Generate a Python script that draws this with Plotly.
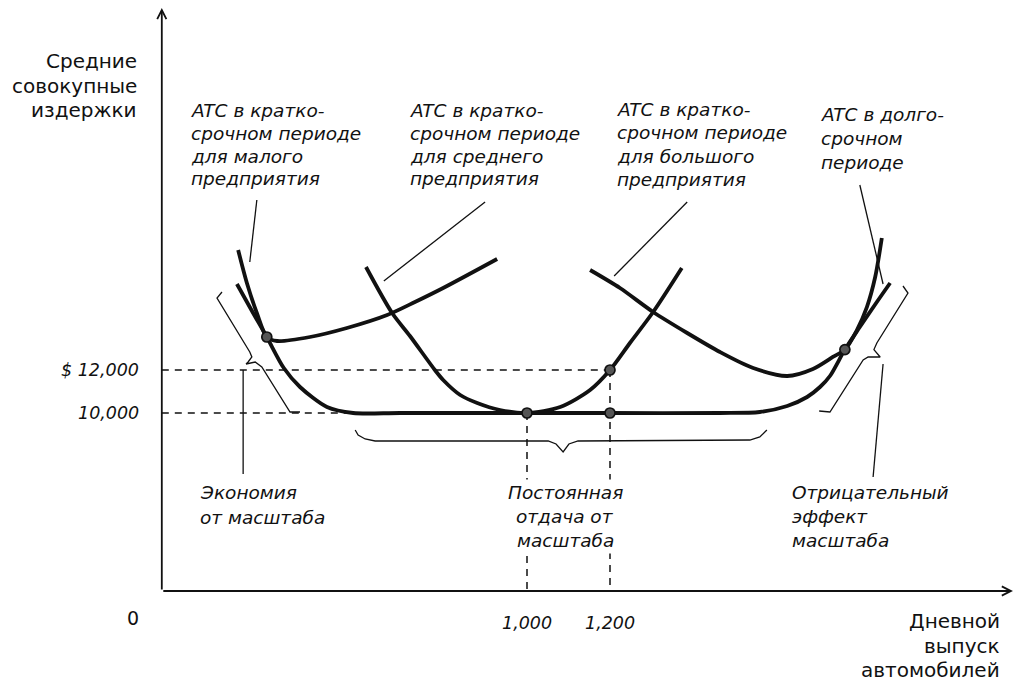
import plotly.graph_objects as go

W, H = 1033, 683

# ---------------- data (output in cars/day, ATC in $) ----------------
small_x = [304, 325, 349, 373, 398, 477, 566, 663, 730, 798, 928]
small_y = [17581, 16047, 14651, 13535, 13349, 13535, 13954, 14558, 15163, 15814, 17163]

medium_x = [612, 675, 718, 778, 798, 839, 880, 935, 1000, 1080, 1152, 1200, 1248, 1304, 1373]
medium_y = [16791, 14651, 13581, 12000, 11535, 10837, 10465, 10140, 10000, 10279, 11070, 12000, 13256, 14698, 16744]

large_x = [1152, 1224, 1304, 1386, 1465, 1545, 1627, 1689, 1737, 1766, 1795, 1819, 1839, 1855]
large_y = [16651, 15814, 14698, 13721, 12837, 12093, 11721, 12047, 12605, 12950, 13860, 14930, 16326, 18140]

long_x = [301, 340, 373, 414, 453, 518, 581, 694, 1000, 1200, 1465, 1561, 1627, 1675, 1706, 1730, 1766, 1802, 1843, 1875]
long_y = [16000, 14651, 13535, 12093, 11209, 10279, 10000, 10000, 10000, 10000, 10000, 10047, 10326, 10744, 11209, 11721, 12950, 14000, 15163, 16047]

dot_x = [373, 1000, 1200, 1200, 1766]
dot_y = [13535, 10000, 10000, 12000, 12950]

x_ticks = [1000, 1200]
x_tick_labels = ["1,000", "1,200"]
y_ticks = [12000, 10000]
y_tick_labels = ["$ 12,000", "10,000"]

brace_left_x = [265, 253, 332, 337, 328, 323, 345, 361, 429, 453]
brace_left_y = [15628, 15349, 12837, 12605, 12372, 12279, 12372, 12140, 10047, 10047]
brace_bottom_x = [586, 593, 610, 634, 1051, 1070, 1087, 1101, 1123, 1537, 1561, 1578]
brace_bottom_y = [9209, 8977, 8791, 8698, 8698, 8558, 8186, 8558, 8698, 8744, 8884, 9209]
brace_right_x = [1906, 1918, 1843, 1836, 1851, 1822, 1810, 1730, 1704]
brace_right_y = [15907, 15581, 13256, 12950, 12605, 12605, 12465, 10047, 10093]

leader_x0 = [349, 899, 1386, 1802, 316, 1858]
leader_y0 = [19907, 19814, 19814, 20605, 12000, 12279]
leader_x1 = [332, 655, 1210, 1858, 316, 1834]
leader_y1 = [17023, 16140, 16372, 16000, 7163, 7023]

label_small = ["ATC в кратко-", "срочном периоде", "для малого", "предприятия"]
label_medium = ["ATC в кратко-", "срочном периоде", "для среднего", "предприятия"]
label_large = ["ATC в кратко-", "срочном периоде", "для большого", "предприятия"]
label_long = ["ATC в долго-", "срочном", "периоде"]
label_econ = ["Экономия", "от масштаба"]
label_const = ["Постоянная", "отдача от", "масштаба"]
label_dis = ["Отрицательный", "эффект", "масштаба"]
y_title = ["Средние", "совокупные", "издержки"]
x_title = ["Дневной", "выпуск", "автомобилей"]

# ---------------- axes frame ----------------
X0_PX, X_PER_PX = 527, 200 / 83      # 1,000 cars at px 527; 200 cars per 83 px
Y0_PX, Y_PER_PX = 413, 2000 / 43     # $10,000 at px 413; $2,000 per 43 px
x_range = [1000 - X0_PX * X_PER_PX, 1000 + (W - X0_PX) * X_PER_PX]
y_range = [10000 - (H - Y0_PX) * Y_PER_PX, 10000 + Y0_PX * Y_PER_PX]
origin_x, origin_y = 120, 1721
x_end, y_end = 2171, 28837

INK = "#111111"
FONT = "DejaVu Sans"

fig = go.Figure()

def curve(xs, ys):
    fig.add_trace(go.Scatter(x=xs, y=ys, mode="lines",
                             line=dict(color=INK, width=3.8, shape="spline", smoothing=0.8),
                             hoverinfo="skip"))

def thin(xs, ys, width=1.3, dash=None):
    fig.add_trace(go.Scatter(x=xs, y=ys, mode="lines",
                             line=dict(color=INK, width=width, dash=dash),
                             hoverinfo="skip"))

# dashed guides
dash = "7px,6px"
thin([origin_x, x_ticks[1]], [y_ticks[0], y_ticks[0]], 1.5, dash)
thin([origin_x, long_x[6]], [y_ticks[1], y_ticks[1]], 1.5, dash)
thin([x_ticks[0], x_ticks[0]], [y_ticks[1], origin_y], 1.5, dash)
thin([x_ticks[1], x_ticks[1]], [y_ticks[0], origin_y], 1.5, dash)

# braces and leaders
thin(brace_left_x, brace_left_y)
thin(brace_bottom_x, brace_bottom_y)
thin(brace_right_x, brace_right_y)
for a, b, c, d in zip(leader_x0, leader_y0, leader_x1, leader_y1):
    thin([a, c], [b, d], 1.3)

# cost curves
curve(small_x, small_y)
curve(medium_x, medium_y)
curve(large_x, large_y)
curve(long_x, long_y)

fig.add_trace(go.Scatter(x=dot_x, y=dot_y, mode="markers",
                         marker=dict(size=10, color="#555555", line=dict(color=INK, width=1.7)),
                         hoverinfo="skip"))

# axis arrows
for (hx, hy) in [(x_end, origin_y), (origin_x, y_end)]:
    fig.add_annotation(x=hx, y=hy, ax=origin_x, ay=origin_y, xref="x", yref="y",
                       axref="x", ayref="y", text="", showarrow=True, arrowhead=5,
                       arrowsize=1.0, arrowwidth=1.8, arrowcolor=INK, standoff=0)

def px(x):
    return x / W

def py(y):
    return 1 - y / H

def lines(texts, x, y0, dy, anchor="left", italic=True, size=18.5, bg=False):
    for i, t in enumerate(texts):
        fig.add_annotation(x=px(x), y=py(y0 + i * dy), xref="paper", yref="paper",
                           text=f"<i>{t}</i>" if italic else t, showarrow=False,
                           xanchor=anchor, yanchor="middle",
                           font=dict(family=FONT, size=size, color=INK),
                           bgcolor="white" if bg else "rgba(0,0,0,0)", borderpad=2)

lines(y_title, 140, 61, 24.5, anchor="right", italic=False, size=20)
lines(x_title, 1003, 621, 24.5, anchor="right", italic=False, size=20)
lines(label_small, 188, 111, 22.5)
lines(label_medium, 407, 111, 22.5)
lines(label_large, 614, 109, 23.5)
lines(label_long, 818, 115, 23.5)
lines(label_econ, 197, 492, 25)
lines(label_const, 565, 492, 24, anchor="center", bg=True)
lines(label_dis, 789, 492, 24)

# tick labels tied to the data scales
for v, t in zip(x_ticks, x_tick_labels):
    fig.add_annotation(x=v, y=py(623), xref="x", yref="paper", text=f"<i>{t}</i>",
                       showarrow=False, xanchor="center", yanchor="middle",
                       font=dict(family=FONT, size=17.5, color=INK))
for v, t in zip(y_ticks, y_tick_labels):
    fig.add_annotation(x=px(141), y=v, xref="paper", yref="y", text=f"<i>{t}</i>",
                       showarrow=False, xanchor="right", yanchor="middle",
                       font=dict(family=FONT, size=17.5, color=INK))
fig.add_annotation(x=px(133), y=py(618), xref="paper", yref="paper", text="0",
                   showarrow=False, xanchor="center", yanchor="middle",
                   font=dict(family=FONT, size=19, color=INK))

fig.update_layout(
    width=W, height=H, margin=dict(l=0, r=0, t=0, b=0),
    paper_bgcolor="white", plot_bgcolor="white", showlegend=False,
    xaxis=dict(range=x_range, visible=False, fixedrange=True),
    yaxis=dict(range=y_range, visible=False, fixedrange=True),
)

fig.write_html("out.html", config={"displayModeBar": False, "staticPlot": True},
               post_script="document.body.style.margin='0';document.body.style.overflow='hidden';")
